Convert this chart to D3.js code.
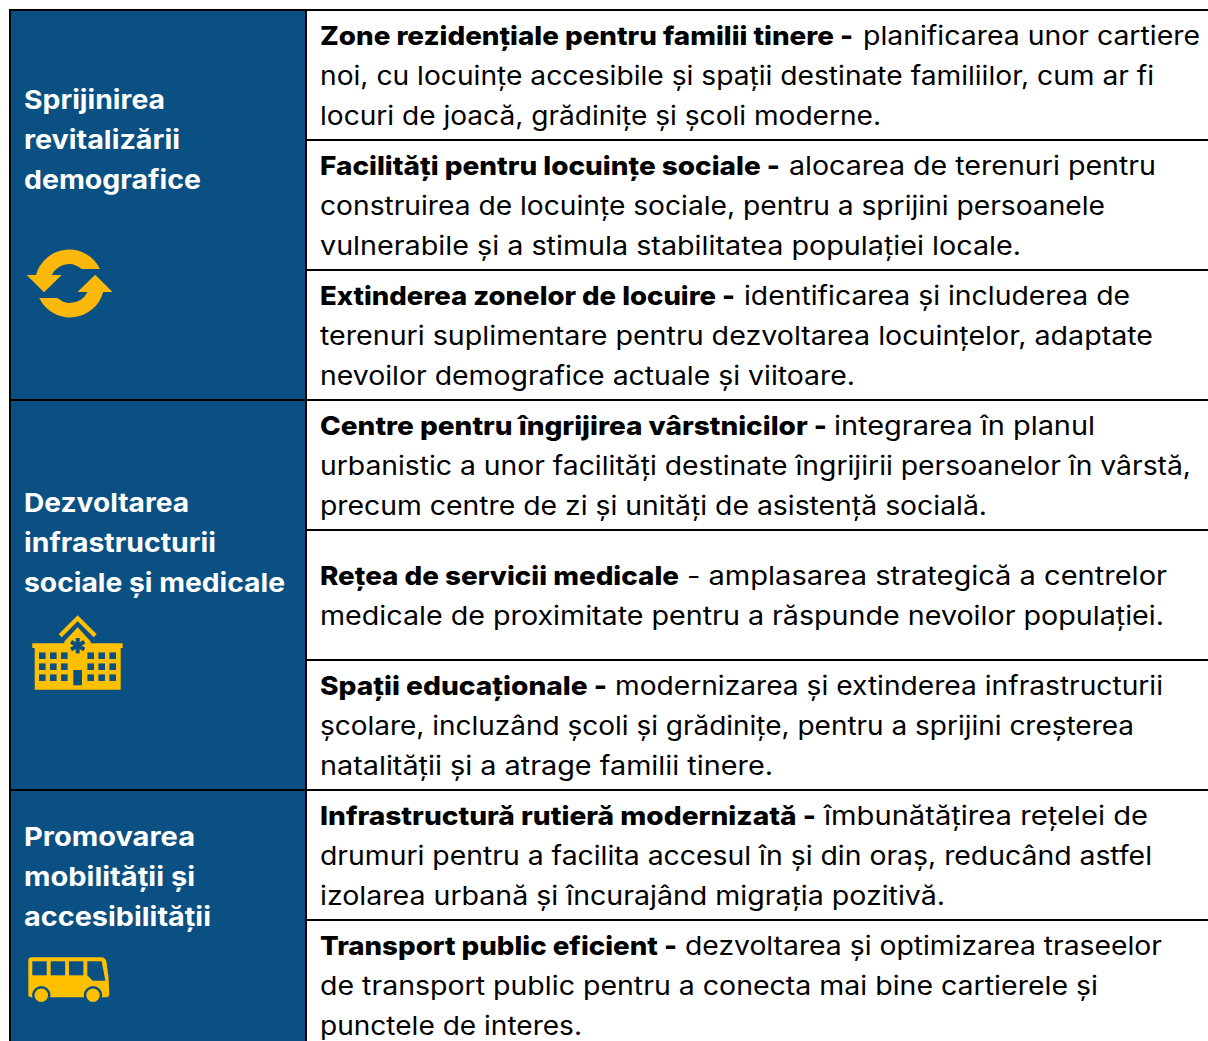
<!DOCTYPE html>
<html>
<head>
<meta charset="utf-8">
<script src="https://cdn.jsdelivr.net/npm/d3@7"></script>
<style>
  html, body { margin: 0; padding: 0; background: #fff; overflow: hidden; }
  text { font-family: Inter, "Open Sans", sans-serif; dominant-baseline: auto; }
</style>
</head>
<body>
<div id="chart"></div>
<script>
// Left column headings
let groupTitles = [
  ["Sprijinirea", "revitalizării", "demografice"],
  ["Dezvoltarea", "infrastructurii", "sociale și medicale"],
  ["Promovarea", "mobilității și", "accesibilității"]
];
let groupRows = [[0, 3], [3, 6], [6, 8]];

// Right column: bold lead, then the rest of the first line, then the other lines
let rowLeads = [
  "Zone rezidențiale pentru familii tinere -",
  "Facilități pentru locuințe sociale -",
  "Extinderea zonelor de locuire -",
  "Centre pentru îngrijirea vârstnicilor -",
  "Rețea de servicii medicale",
  "Spații educaționale -",
  "Infrastructură rutieră modernizată -",
  "Transport public eficient -"
];
let rowFirstLines = [
  "planificarea unor cartiere",
  "alocarea de terenuri pentru",
  "identificarea și includerea de",
  "integrarea în planul",
  "- amplasarea strategică a centrelor",
  "modernizarea și extinderea infrastructurii",
  "îmbunătățirea rețelei de",
  "dezvoltarea și optimizarea traseelor"
];
let rowOtherLines = [
  ["noi, cu locuințe accesibile și spații destinate familiilor, cum ar fi", "locuri de joacă, grădinițe și școli moderne."],
  ["construirea de locuințe sociale, pentru a sprijini persoanele", "vulnerabile și a stimula stabilitatea populației locale."],
  ["terenuri suplimentare pentru dezvoltarea locuințelor, adaptate", "nevoilor demografice actuale și viitoare."],
  ["urbanistic a unor facilități destinate îngrijirii persoanelor în vârstă,", "precum centre de zi și unități de asistență socială."],
  ["medicale de proximitate pentru a răspunde nevoilor populației."],
  ["școlare, incluzând școli și grădinițe, pentru a sprijini creșterea", "natalității și a atrage familii tinere."],
  ["drumuri pentru a facilita accesul în și din oraș, reducând astfel", "izolarea urbană și încurajând migrația pozitivă."],
  ["de transport public pentru a conecta mai bine cartierele și", "punctele de interes."]
];

let width = 1208, height = 1041;
let blue = "#0a5082", yellow = "#ffc000", orange = "#fdb90b";
let textX = 320, titleX = 24, fontSize = 26, linePitch = 40;
let titleEnds = [[165, 180, 201], [189, 216, 285], [195, 195, 211]];
let titleFirstY = [100, 503, 837];
let leadEnds = [853, 780, 735, 827, 679, 607, 816, 677];
let firstStarts = [863, 789, 744, 834, 687, 615, 824, 685];
let firstEnds = [1200, 1156, 1130, 1095, 1167, 1163, 1148, 1162];
let otherEnds = [[1154, 881], [1105, 1021], [1153, 855], [1191, 987], [1164], [1134, 773], [1152, 945], [1098, 582]];

let y = d3.scaleLinear().domain([0, 8]).range([10, 1050]);

let svg = d3.select("#chart").append("svg")
  .attr("width", width)
  .attr("height", height)
  .style("display", "block");

// Blue column
svg.append("rect")
  .attr("x", 10).attr("y", y(0))
  .attr("width", 296).attr("height", y(8) - y(0))
  .attr("fill", blue);

// Grid lines: every row on the right, only group boundaries on the left
svg.selectAll("line.row")
  .data(d3.range(0, 9))
  .join("line")
  .attr("class", "row")
  .attr("x1", 306).attr("x2", width)
  .attr("y1", d => y(d)).attr("y2", d => y(d))
  .attr("stroke", "#000").attr("stroke-width", 2);

svg.selectAll("line.group")
  .data(groupRows)
  .join("line")
  .attr("class", "group")
  .attr("x1", 9).attr("x2", 306)
  .attr("y1", d => y(d[0])).attr("y2", d => y(d[0]))
  .attr("stroke", "#000").attr("stroke-width", 2);

[10, 306].forEach(function (x) {
  svg.append("line")
    .attr("x1", x).attr("x2", x)
    .attr("y1", 9).attr("y2", height)
    .attr("stroke", "#000").attr("stroke-width", 2);
});

function addText(str, x, end, cy, weight, fill) {
  let t = svg.append("text")
    .attr("x", x)
    .attr("y", cy + fontSize * 0.36)
    .attr("font-size", fontSize)
    .attr("font-weight", weight)
    .attr("fill", fill)
    .attr("textLength", end - x)
    .attr("lengthAdjust", "spacingAndGlyphs")
    .text(str);
  return t;
}

// Group headings
groupTitles.forEach(function (lines, g) {
  lines.forEach(function (line, i) {
    addText(line, titleX, titleEnds[g][i], titleFirstY[g] + i * linePitch, 700, "#fff");
  });
});

// Row text
rowLeads.forEach(function (lead, r) {
  let count = rowOtherLines[r].length + 1;
  let top = (y(r) + y(r + 1)) / 2 - (count - 1) * linePitch / 2 + 1;
  addText(lead, textX, leadEnds[r], top, 800, "#000");
  addText(rowFirstLines[r], firstStarts[r], firstEnds[r], top, 400, "#000");
  rowOtherLines[r].forEach(function (line, i) {
    addText(line, textX, otherEnds[r][i], top + (i + 1) * linePitch, 400, "#000");
  });
});

// Icons ---------------------------------------------------

// Refresh arrows, second half is the first turned round the centre
let refresh = svg.append("g").attr("fill", orange);
let halfArrow = "M100,269 A34.3,34.3 0 0 0 36,275 L26.7,275 L44,292.3 L61.7,275 L51.7,275 A19.5,19.5 0 0 1 69.3,264 C74,264 78,266 81.7,269 Z";
refresh.append("path").attr("d", halfArrow);
refresh.append("path").attr("d", halfArrow).attr("transform", "rotate(180 69.6 283.5)");

// Hospital
let hospital = svg.append("g");
hospital.append("path").attr("fill", yellow)
  .attr("d", "M77.7,615.3 L96.7,634.3 L93.7,637.3 L77.7,621.3 L61.7,637.3 L58.7,634.3 Z");
hospital.append("path").attr("fill", yellow)
  .attr("d", "M64.3,643.3 L64.3,641.5 L77.7,627.3 L90.7,641.5 L90.7,643.3 L122.7,643.3 L122.7,648 L120.7,648 L120.7,689.7 L34.7,689.7 L34.7,648 L32.3,648 L32.3,643.3 Z");
[42.3, 53.3, 64.3, 90.7, 101.7, 112.7].forEach(function (cx) {
  [655.7, 666.7, 677.7].forEach(function (cy) {
    hospital.append("rect")
      .attr("x", cx - 3.3).attr("y", cy - 3.3)
      .attr("width", 6.6).attr("height", 6.6)
      .attr("fill", blue);
  });
});
hospital.append("rect")
  .attr("x", 73.3).attr("y", 670)
  .attr("width", 8.7).attr("height", 15.3)
  .attr("fill", blue);
d3.range(0, 180, 60).forEach(function (a) {
  hospital.append("line")
    .attr("x1", 77.7).attr("x2", 77.7)
    .attr("y1", 638).attr("y2", 653.4)
    .attr("stroke", blue).attr("stroke-width", 4)
    .attr("transform", "rotate(" + a + " 77.7 645.7)");
});

// Bus
let bus = svg.append("g");
bus.append("path").attr("fill", yellow)
  .attr("d", "M31.3,957.3 L101,957.3 Q105.5,957.3 106.5,962 Q109.3,978 109.3,994 Q109.3,997.3 106,997.3 L31,997.3 Q28.3,997.3 28.3,994 L28.3,960.3 Q28.3,957.3 31.3,957.3 Z");
[32.3, 50.7, 69].forEach(function (wx) {
  bus.append("rect")
    .attr("x", wx).attr("y", 961.3)
    .attr("width", 14.4).attr("height", 14)
    .attr("fill", blue);
});
bus.append("path").attr("fill", blue)
  .attr("d", "M87.3,961.3 L101.7,961.3 L105.3,980.7 L92.7,980.7 L87.3,975.3 Z");
[41.3, 93].forEach(function (cx) {
  bus.append("circle").attr("cx", cx).attr("cy", 995.3).attr("r", 9.2).attr("fill", blue);
  bus.append("circle").attr("cx", cx).attr("cy", 995.3).attr("r", 6.7).attr("fill", yellow);
});
</script>
</body>
</html>
